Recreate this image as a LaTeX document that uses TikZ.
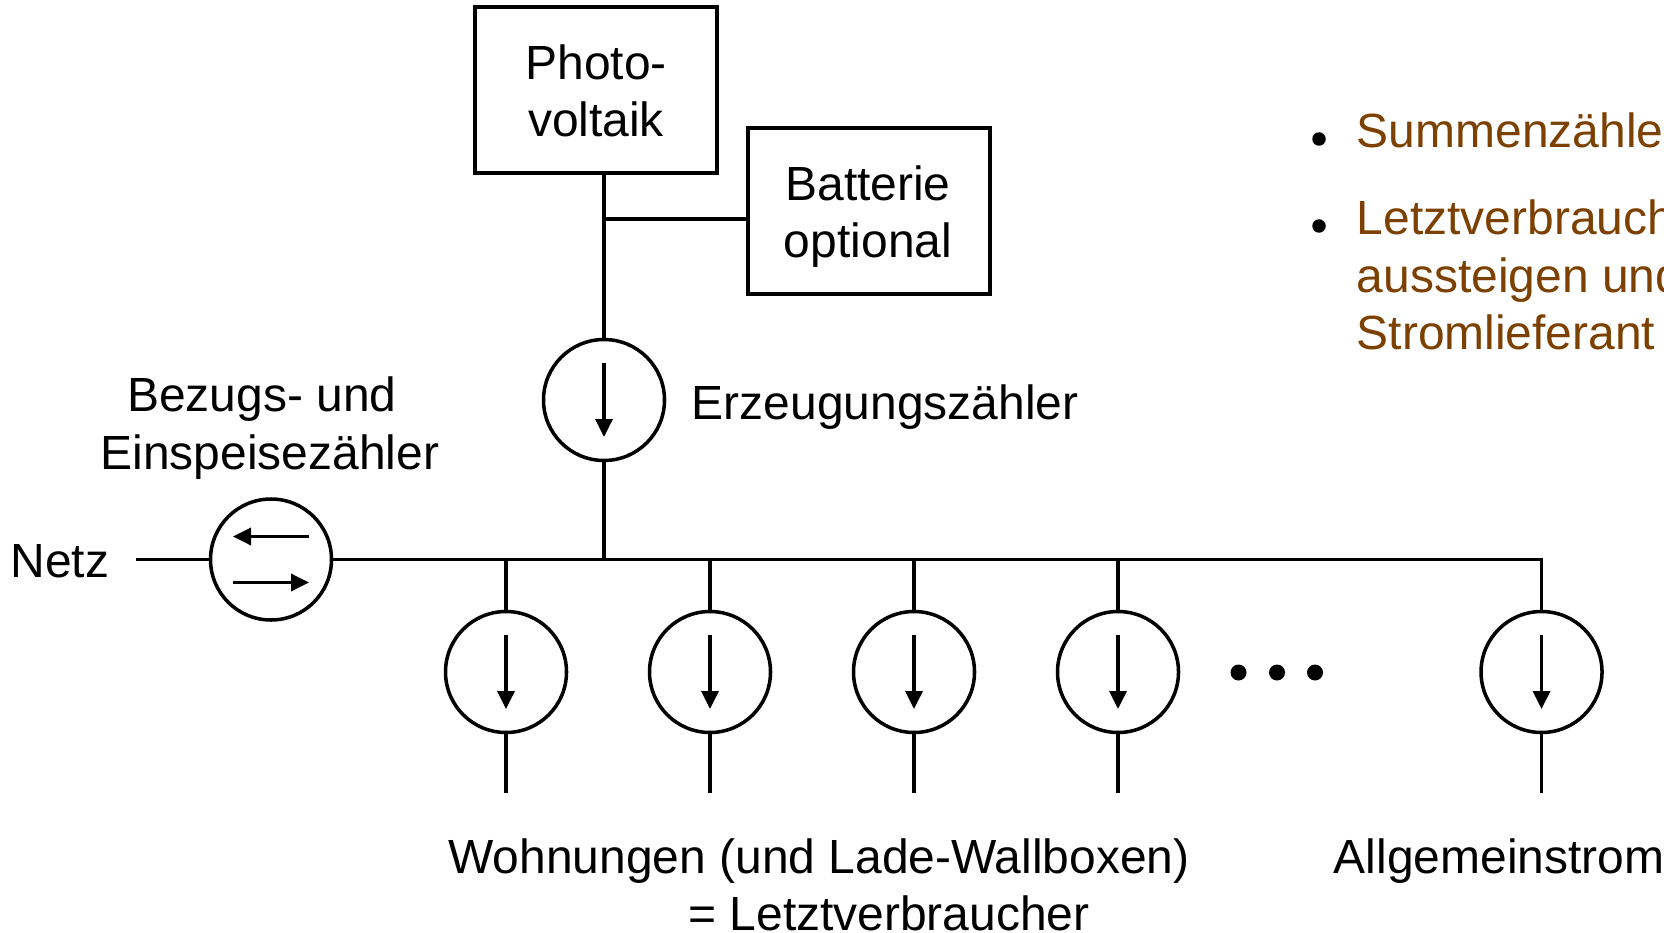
\documentclass[tikz,border=0pt]{standalone}
\usepackage{fontspec}
\setmainfont{Liberation Sans}
\usetikzlibrary{arrows.meta}
\definecolor{hinweis}{HTML}{7C4000}
\tikzset{
  every node/.style={font=\fontsize{13.65}{16.35}\selectfont},
  leitung/.style={line width=1pt},
  kasten/.style={draw,line width=1pt,minimum width=2.42cm,minimum height=1.66cm,inner sep=0pt},
  zaehler/.style={draw,circle,line width=1pt,minimum size=1.21cm,inner sep=0pt},
  pfeil/.style={line width=1pt,-{Triangle[length=1.8mm,width=1.7mm]}},
  beschr/.style={anchor=base,inner sep=0pt},
  hinw/.style={anchor=base west,inner sep=0pt,text=hinweis},
  punkt/.style={circle,fill=black,inner sep=0pt,minimum size=#1}
}
\begin{document}
\begin{tikzpicture}
  \useasboundingbox (0,0) rectangle (16.64,9.32);
  % boxes
  \node[kasten] (pv) at (5.96,8.42) {};
  \node[kasten] (bat) at (8.69,7.21) {};
  \node[beschr] (pv1) at (5.96,8.52) {Photo-};
  \node[beschr] (pv2) at (5.96,7.95) {voltaik};
  \node[beschr] (bat1) at (8.68,7.31) {Batterie};
  \node[beschr] (bat2) at (8.68,6.74) {optional};

  % meters
  \node[zaehler] (erz) at (6.04,5.32) {};
  \node[zaehler] (bez) at (2.71,3.725) {};
  \foreach \n/\x in {1/5.06,2/7.10,3/9.14,4/11.18,5/15.415}
    \node[zaehler] (z\n) at (\x,2.60) {};

  % lines
  \coordinate (abzw) at (6.04,7.13);
  \coordinate (netzL) at (1.36,3.725);
  \coordinate (busR) at (15.415,3.725);
  \draw[leitung] (pv.south -| erz) -- (erz);
  \draw[leitung] (abzw) -- (bat.west |- abzw);
  \draw[leitung] (erz) -- (erz |- bez);
  \draw[leitung] (netzL) -- (bez);
  \draw[leitung] (bez) -- (busR) -- (z5);
  \foreach \n in {1,...,4}
    \draw[leitung] (z\n |- bez) -- (z\n);
  \foreach \n in {1,...,5}{
    \coordinate (end\n) at ([yshift=-1.21cm]z\n.center);
    \draw[leitung] (z\n) -- (end\n);
    \draw[pfeil] ([yshift=.37cm]z\n.center) -- ([yshift=-.37cm]z\n.center);
  }
  \draw[pfeil] ([yshift=.37cm]erz.center) -- ([yshift=-.37cm]erz.center);
  \draw[pfeil] ([xshift=.38cm,yshift=.23cm]bez.center) -- ([xshift=-.38cm,yshift=.23cm]bez.center);
  \draw[pfeil] ([xshift=-.38cm,yshift=-.23cm]bez.center) -- ([xshift=.38cm,yshift=-.23cm]bez.center);

  % dots
  \foreach \x [count=\i] in {12.385,12.77,13.15}
    \node[punkt=1.6mm] (p\i) at (\x,2.595) {};

  % labels
  \node[beschr] (netz) at (0.60,3.55) {Netz};
  \node[beschr] (bez1) at (2.62,5.21) {Bezugs- und};
  \node[beschr] (bez2) at (2.70,4.63) {Einspeisezähler};
  \node[beschr,anchor=base west] (erzl) at (6.91,5.13) {Erzeugungszähler};
  \node[beschr] (wohn1) at (8.19,0.59) {Wohnungen (und Lade-Wallboxen)};
  \node[beschr] (wohn2) at (8.89,0.015) {= Letztverbraucher};
  \node[beschr,anchor=base west] (allg) at (13.33,0.59) {Allgemeinstrom};

  % notes
  \node[punkt=1.35mm] (b1) at (13.19,7.93) {};
  \node[punkt=1.35mm] (b2) at (13.19,7.06) {};
  \node[hinw] (h1) at (13.56,7.84) {Summenzähle};
  \node[hinw] (h2) at (13.56,6.97) {Letztverbrauch};
  \node[hinw] (h3) at (13.56,6.395) {aussteigen und};
  \node[hinw] (h4) at (13.56,5.82) {Stromlieferant};
\end{tikzpicture}
\end{document}
